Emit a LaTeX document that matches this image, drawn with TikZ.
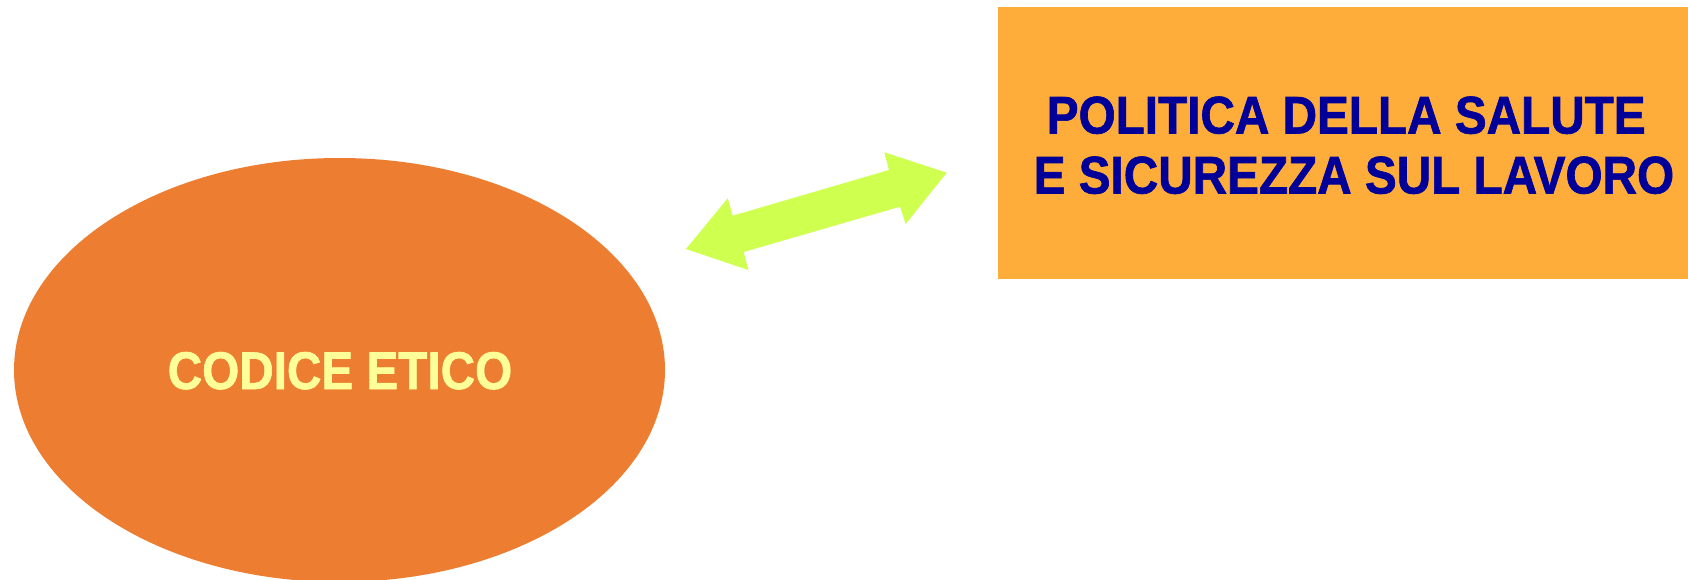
\documentclass[tikz,border=0pt]{standalone}
\usepackage{fontspec}
\setmainfont{Liberation Sans}[FakeStretch=0.9,BoldFeatures={FakeBold=1.2}]
\usetikzlibrary{shapes.geometric}
\definecolor{ellorange}{HTML}{ED7D31}
\definecolor{boxorange}{HTML}{FFAD3A}
\definecolor{textblue}{HTML}{000099}
\definecolor{textyellow}{HTML}{FFFF99}
\definecolor{arrowgreen}{HTML}{CFFF4F}
\begin{document}
\begin{tikzpicture}[x=1pt,y=-1pt,
  bigtext/.style={font=\fontsize{53}{62}\selectfont\bfseries, inner sep=0pt},
  ellnode/.style={ellipse, fill=ellorange, draw=none, inner sep=0pt, minimum width=651pt, minimum height=424pt},
  boxnode/.style={rectangle, fill=boxorange, draw=none, inner sep=0pt, minimum width=690pt, minimum height=272pt},
  blockarrow/.style={fill=arrowgreen, draw=none}]
\useasboundingbox (0,0) rectangle (1688,580);
\clip (0,0) rectangle (1688,580);
\fill[white] (0,0) rectangle (1688,580);
% ellipse
\node[ellnode] (ell) at (339.5,370) {};
\node[bigtext, text=textyellow, anchor=base] (ellt) at (340,389) {CODICE ETICO};
% box
\node[boxnode] (box) at (1343,143) {};
\node[bigtext, text=textblue, anchor=base] (boxl1) at (1346.2,133.5) {POLITICA DELLA SALUTE};
\node[bigtext, text=textblue, anchor=base] (boxl2) at (1353.9,193.5) {E SICUREZZA SUL LAVORO};
% double block arrow
\coordinate (tipL) at (686,249);
\coordinate (tipR) at (946.7,172.7);
\fill[blockarrow] (tipL) -- (727.7,198.3) -- (732.7,215.7) -- (889,170) -- (884.3,152.3)
  -- (tipR) -- (905.7,224) -- (900,206.7) -- (743.7,252) -- (748.3,270) -- cycle;
\end{tikzpicture}
\end{document}
